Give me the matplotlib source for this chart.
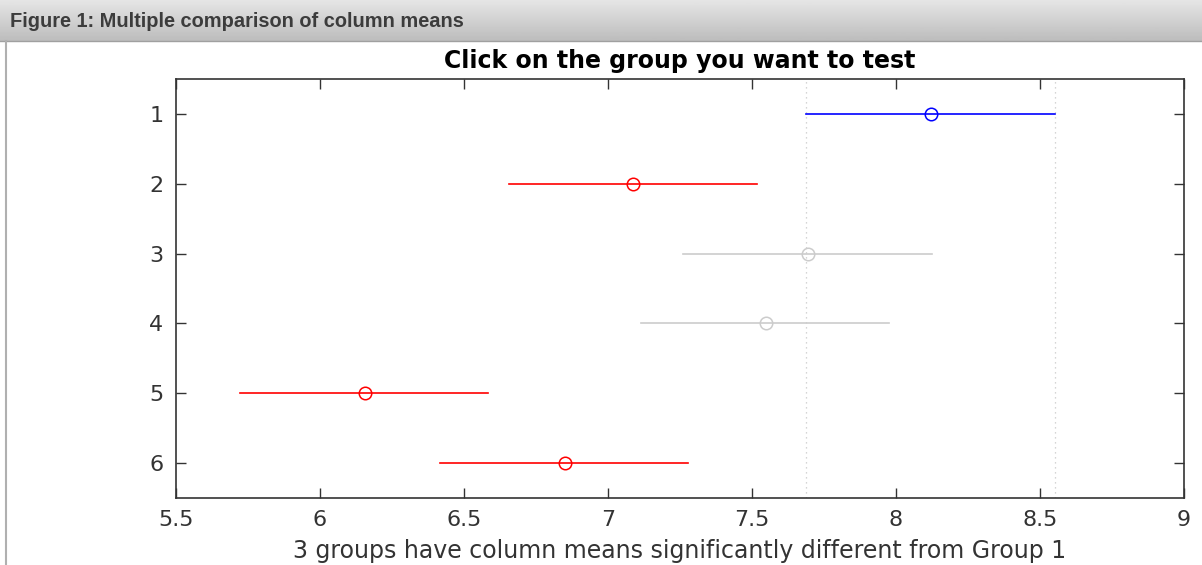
import numpy as np
import matplotlib
matplotlib.use('Agg')
import matplotlib.pyplot as plt

# group means and comparison intervals
groups = [1, 2, 3, 4, 5, 6]
means = [8.121, 7.087, 7.694, 7.549, 6.156, 6.851]
lower = [7.688, 6.656, 7.260, 7.115, 5.722, 6.417]
upper = [8.552, 7.517, 8.125, 7.976, 6.583, 7.278]
colors = ['blue', 'red', '#cccccc', '#cccccc', 'red', 'red']

window_title = 'Figure 1: Multiple comparison of column means'
title = 'Click on the group you want to test'
xlabel = '3 groups have column means significantly different from Group 1'

fig = plt.figure(figsize=(12.02, 5.65), dpi=100)

# window title bar
bar = fig.add_axes([0, 1 - 41 / 565, 1, 41 / 565])
grad = np.linspace(0.90, 0.74, 50).reshape(-1, 1)
bar.imshow(grad, cmap='gray', vmin=0, vmax=1, aspect='auto', extent=[0, 1, 0, 1])
bar.set_xlim(0, 1)
bar.set_ylim(0, 1)
bar.axis('off')
bar.text(10 / 1202, 0.48, window_title, fontsize=14.4, fontweight='bold',
         family='Liberation Sans', color='#3c3c3c', va='center', ha='left')
fig.add_artist(plt.Line2D([0, 1], [1 - 41 / 565] * 2, color='#a0a0a0', lw=1))
fig.add_artist(plt.Line2D([6 / 1202] * 2, [0, 1 - 41 / 565], color='#b0b0b0', lw=1.5))

ax = fig.add_axes([176 / 1202, 1 - 498 / 565, 1008 / 1202, 419 / 565])

ax.axvline(lower[0], color='#c8c8c8', lw=0.9, ls=(0, (1, 3)), zorder=1)
ax.axvline(upper[0], color='#c8c8c8', lw=0.9, ls=(0, (1, 3)), zorder=1)

for g, m, lo, hi, c in zip(groups, means, lower, upper, colors):
    ax.plot([lo, hi], [g, g], color=c, lw=1.2, zorder=2)
    ax.plot(m, g, 'o', mfc='none', mec=c, ms=9, mew=1.1, zorder=3)

ax.set_xlim(5.5, 9)
ax.set_ylim(6.5, 0.5)
ax.set_xticks([5.5, 6, 6.5, 7, 7.5, 8, 8.5, 9])
ax.set_xticklabels(['5.5', '6', '6.5', '7', '7.5', '8', '8.5', '9'])
ax.set_yticks(groups)
ax.tick_params(direction='in', length=7, width=1, top=True, right=True,
               labelsize=16, colors='#333333', pad=9)
ax.tick_params(axis='y', pad=9)
for s in ax.spines.values():
    s.set_color('#333333')
    s.set_linewidth(1.2)

ax.set_title(title, fontsize=17, fontweight='bold', pad=8)
ax.set_xlabel(xlabel, fontsize=17, color='#333333', labelpad=6)

fig.savefig('out.png', dpi=100)
